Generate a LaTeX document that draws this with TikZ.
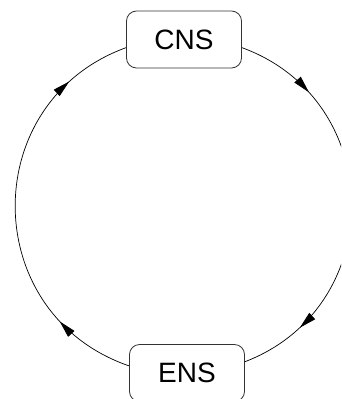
\documentclass[tikz,border=0pt]{standalone}
\usepackage{fontspec}
\setmainfont{Liberation Sans}
\usetikzlibrary{arrows.meta,decorations.markings}

\begin{document}
\begin{tikzpicture}[x=1pt, y=1pt,
    box/.style={draw=black!80, line width=0.8pt, rounded corners=10pt,
        minimum width=115pt, minimum height=57pt, inner sep=0pt,
        font=\fontsize{28}{30}\selectfont},
    flow/.style={line width=0.7pt, postaction={decorate},
        decoration={markings,
            mark=at position 0.2 with {\arrow{Triangle[length=17pt,width=8.5pt]}},
            mark=at position 0.84 with {\arrow{Triangle[length=17pt,width=8.5pt]}}}}]
        \clip (0,0) rectangle (341,-399);
        \node[box] (cns) at (184,-39.5) {CNS};
        \node[box] (ens) at (187,-373) {ENS};

        \draw[flow] (cns.352) to[out=-20, in=21, distance=154pt] (ens.11);
        \draw[flow] (ens.173) to[out=161, in=200, distance=159pt] (cns.188);
\end{tikzpicture}
\end{document}
